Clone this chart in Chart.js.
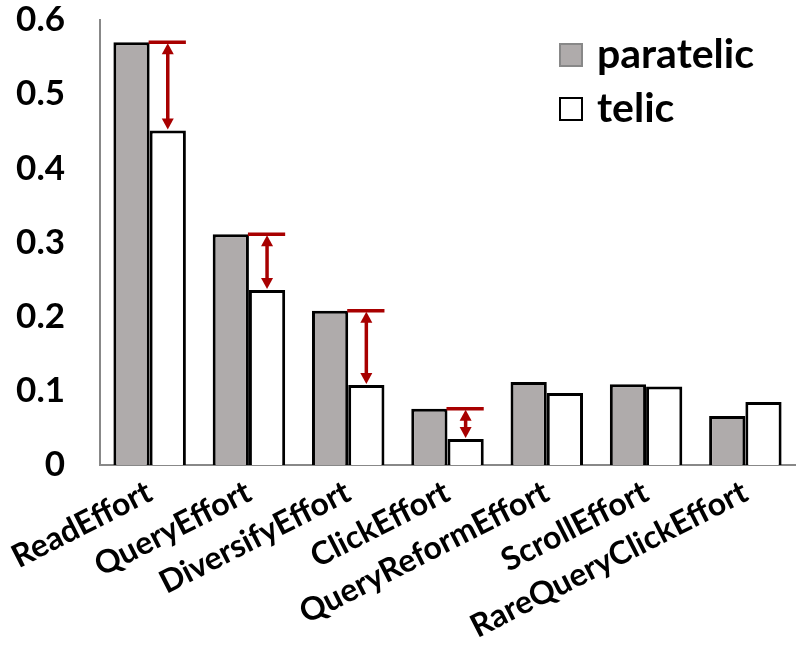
<!DOCTYPE html>
<html>
<head>
<meta charset="utf-8">
<script src="https://cdn.jsdelivr.net/npm/chart.js@4"></script>
<style>
  html, body { margin: 0; padding: 0; background: #fff; }
  #wrap { width: 805px; height: 647px; }
</style>
</head>
<body>
<div id="wrap"><canvas id="myChart" width="805" height="647"></canvas></div>
<script>
const categories = ['ReadEffort', 'QueryEffort', 'DiversifyEffort', 'ClickEffort',
    'QueryReformEffort', 'ScrollEffort', 'RareQueryClickEffort'];
const paratelic = [0.570, 0.311, 0.208, 0.076, 0.112, 0.109, 0.066];
const telic = [0.451, 0.236, 0.108, 0.035, 0.097, 0.106, 0.085];
const yTicks = [0, 0.1, 0.2, 0.3, 0.4, 0.5, 0.6];
// categories where the gap is marked with a red arrow
const arrowCategories = ['ReadEffort', 'QueryEffort', 'DiversifyEffort', 'ClickEffort'];

const FONT = 'Lato, "Open Sans", sans-serif';

const gapArrows = {
    id: 'gapArrows',
    afterDatasetsDraw(chart) {
        const ctx = chart.ctx;
        const top = chart.getDatasetMeta(0).data;
        const low = chart.getDatasetMeta(1).data;
        ctx.save();
        ctx.strokeStyle = '#a80000';
        ctx.fillStyle = '#a80000';
        ctx.lineWidth = 3.5;
        arrowCategories.forEach(name => {
            const i = categories.indexOf(name);
            const a = top[i], b = low[i];
            const x = b.x, y0 = a.y, y1 = b.y;
            const half = b.width / 2;
            ctx.beginPath();
            ctx.moveTo(x - half - 1, y0);
            ctx.lineTo(x + half, y0);
            ctx.stroke();
            const h = 11, w = 6;
            ctx.beginPath();
            ctx.moveTo(x, y0 + h);
            ctx.lineTo(x, y1 - h);
            ctx.stroke();
            ctx.beginPath();
            ctx.moveTo(x, y0 + 1);
            ctx.lineTo(x - w, y0 + h + 1);
            ctx.lineTo(x + w, y0 + h + 1);
            ctx.closePath();
            ctx.fill();
            ctx.beginPath();
            ctx.moveTo(x, y1 - 1);
            ctx.lineTo(x - w, y1 - h - 1);
            ctx.lineTo(x + w, y1 - h - 1);
            ctx.closePath();
            ctx.fill();
        });
        ctx.restore();
    }
};

const boxLegend = {
    id: 'boxLegend',
    afterDraw(chart) {
        const ctx = chart.ctx;
        ctx.save();
        ctx.font = 'bold 41px ' + FONT;
        ctx.textBaseline = 'middle';
        chart.data.datasets.forEach((ds, k) => {
            const y = 55 + k * 54;
            ctx.fillStyle = ds.backgroundColor;
            ctx.fillRect(560, y - 11, 22, 22);
            ctx.lineWidth = 2;
            ctx.strokeStyle = ds.label === 'telic' ? '#000' : '#888';
            ctx.strokeRect(560, y - 11, 22, 22);
            ctx.fillStyle = '#000';
            ctx.fillText(ds.label, 597, y);
        });
        ctx.restore();
    }
};

const chart = document.getElementById('myChart');
const myChart = new Chart(chart, {
    type: 'bar',
    data: {
        labels: categories,
        datasets: [{
            label: 'paratelic',
            data: paratelic,
            backgroundColor: '#afabab',
            borderColor: '#000',
            borderWidth: 3,
            borderSkipped: 'bottom'
        }, {
            label: 'telic',
            data: telic,
            backgroundColor: '#ffffff',
            borderColor: '#000',
            borderWidth: 3,
            borderSkipped: 'bottom'
        }]
    },
    options: {
        responsive: false,
        animation: false,
        layout: { padding: { top: 20, right: 10, left: 0, bottom: 0 } },
        datasets: {
            bar: { categoryPercentage: 0.73, barPercentage: 1 }
        },
        plugins: {
            legend: { display: false },
            tooltip: { enabled: false }
        },
        scales: {
            y: {
                min: 0,
                max: 0.6,
                afterBuildTicks(scale) {
                    scale.ticks = yTicks.map(v => ({ value: v }));
                },
                afterFit(scale) {
                    scale.width = 100;
                    scale.paddingTop = 0;
                    scale.paddingBottom = 0;
                },
                grid: { display: false, drawTicks: false },
                border: { color: '#888', width: 2 },
                ticks: {
                    padding: 35,
                    color: '#000',
                    font: { family: FONT, size: 35, weight: 'bold' },
                    callback: v => String(v)
                }
            },
            x: {
                afterFit(scale) {
                    scale.height = 182;
                    scale.paddingLeft = 0;
                    scale.paddingRight = 0;
                },
                grid: { display: false, drawTicks: false },
                border: { color: '#888', width: 2 },
                ticks: {
                    padding: 8,
                    minRotation: 27,
                    maxRotation: 27,
                    color: '#000',
                    font: { family: FONT, size: 32, weight: 'bold' }
                }
            }
        }
    },
    plugins: [gapArrows, boxLegend]
});
</script>
</body>
</html>
